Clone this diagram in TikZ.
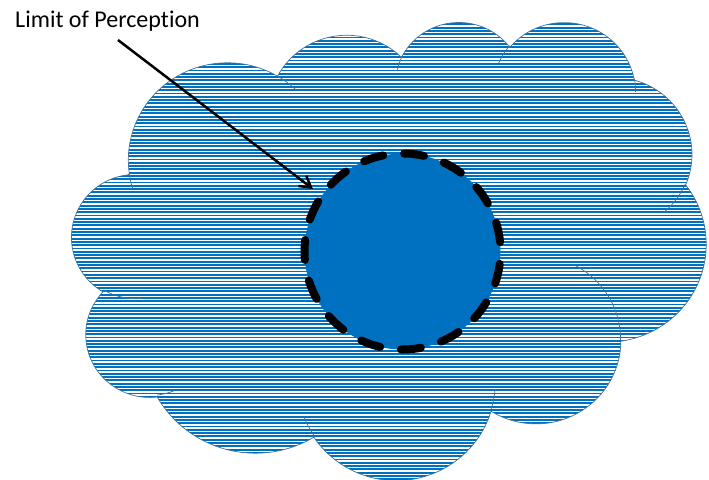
\documentclass[tikz,border=0pt]{standalone}
\usepackage{fontspec}
\setmainfont{Carlito}[Ligatures=NoCommon]
\usetikzlibrary{arrows.meta}
\definecolor{cloudblue}{HTML}{0070C0}
\definecolor{cloudedge}{HTML}{41719C}

% cloud outline, built arc by arc (units of 1/432 of the cloud box)
\def\cloudpath{(39,143.70)}
\foreach \w/\h/\s/\d in {67.53/91.90/-190.4875/123.7805, 53.33/72.67/-144.1024/89.9452,
    43.65/59.45/-145.8079/99.7230, 48.57/65.95/-130.9861/117.2417,
    53.33/72.73/-78.7089/109.0269, 67.75/92.20/-46.2673/130.2690,
    57.85/78.67/0.6250/114.0333, 67.52/92.15/22.4516/115.1726,
    77.20/105.43/66.2426/75.7110, 43.60/59.18/-274.9421/146.7356,
    43.45/59.45/-246.8285/152.5189}{%
  \pgfmathsetmacro\ts{atan2(\w*sin(\s),\h*cos(\s))}%
  \pgfmathsetmacro\te{atan2(\w*sin(\s+\d),\h*cos(\s+\d))}%
  \pgfmathsetmacro\dd{mod(\te-\ts+720,360)}%
  \xdef\cloudpath{\cloudpath arc[x radius=\w, y radius=\h, start angle=\ts, delta angle=\dd]}%
}
% the small inner arcs of the cloud
\def\innerpath{}
\foreach \x/\y/\w/\h/\s/\d in {46.93/261.77/43.45/59.45/86.7420/26.4295,
    69.28/348.99/43.60/59.18/73.6105/11.4475, 164.78/390.90/67.52/92.15/137.6242/14.0811,
    288.27/347.51/67.52/92.15/6.4533/15.9984, 341.29/229.54/57.85/78.67/-70.2924/70.9174,
    417.98/153.54/53.33/72.73/30.3180/27.7515, 383.24/54.26/48.57/65.95/-13.7443/14.8589,
    290.78/39.52/48.57/65.95/-149.1815/18.1954, 221.41/47.20/43.65/59.45/-163.4943/17.6864,
    140.00/51.92/67.53/91.90/-66.7070/12.3194, 41.27/157.89/67.53/91.90/157.6544/11.8582}{%
  \pgfmathsetmacro\ts{atan2(\w*sin(\s),\h*cos(\s))}%
  \pgfmathsetmacro\te{atan2(\w*sin(\s+\d),\h*cos(\s+\d))}%
  \pgfmathsetmacro\dd{mod(\te-\ts+720,360)}%
  \xdef\innerpath{\innerpath (\x,\y) arc[x radius=\w, y radius=\h, start angle=\ts, delta angle=\dd]}%
}

\begin{document}
\begin{tikzpicture}[
        x=0.03cm, y=-0.03cm,
        stripe/.style={cloudblue, line width=0.056cm},
        edge/.style={cloudedge, line width=0.6pt},
        core/.style={
            circle,
            minimum size=5.88cm,
            inner sep=0pt,
            fill=cloudblue,
            draw=black,
            line width=0.24cm,
            dash pattern=on 0.6cm off 0.63cm,
            dash phase=0.95cm,
            line cap=round
        },
        pointer/.style={-{Straight Barb[length=0.33cm, width=0.39cm]}, line width=0.075cm},
        caption/.style={inner sep=0pt, font=\fontsize{20.5}{24}\selectfont}
    ]
    \useasboundingbox (0,0) rectangle (709,479);

    % cloud
    \begin{scope}[shift={(72,21)}, x=0.044028cm, y=-0.031806cm]
        \begin{scope}
            \path[clip] \cloudpath -- cycle;
            \foreach \k in {0,...,140}
                \draw[stripe] (-5,\k*3.11) -- (440,\k*3.11);
        \end{scope}
        \draw[edge] \cloudpath -- cycle;
        \draw[edge] \innerpath;
    \end{scope}

    \node[core] (core) at (402.5,251.5) {};

    \node[caption, anchor=base west] (lbl) at (15,27.3) {Limit of Perception};
    \coordinate (tail) at (118,40);
    \coordinate (tip) at (313,189);
    \draw[pointer] (tail) -- (tip);
\end{tikzpicture}
\end{document}
